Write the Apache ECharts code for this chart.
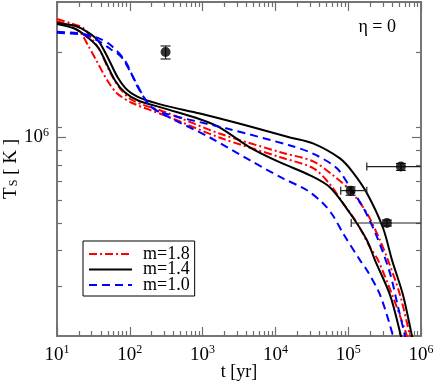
<!DOCTYPE html>
<html>
<head>
<meta charset="utf-8">
<script src="https://cdn.jsdelivr.net/npm/echarts@6/dist/echarts.min.js"></script>
<style>
  body { margin: 0; background: #fff; }
  #chart { width: 436px; height: 382px; }
</style>
</head>
<body>
<div id="chart"></div>
<script>
// cooling curves: age t [yr] and surface temperature Ts [K]
const tRed18a = [10, 15, 23, 30, 39, 54, 73, 110, 320, 1700, 12000, 33000, 62000, 106000, 181000, 273000, 352000, 515000, 706000, 777000];
const TsRed18a = [2.615e6, 2.53e6, 2.43e6, 2.23e6, 2.02e6, 1.69e6, 1.49e6, 1.35e6, 1.224e6, 1.033e6, 8.86e5, 8.24e5, 7.36e5, 6.52e5, 5.41e5, 4.35e5, 3.7e5, 2.79e5, 2.0e5, 1.79e5];

const tRed18b = [10, 15, 21, 27, 35, 49, 67, 110, 320, 1700, 12000, 33000, 56000, 85000, 132000, 200000, 257000, 400000, 642000, 706000];
const TsRed18b = [2.57e6, 2.47e6, 2.34e6, 2.1e6, 1.86e6, 1.59e6, 1.43e6, 1.32e6, 1.19e6, 1.0e6, 8.5e5, 7.8e5, 6.85e5, 5.87e5, 5.0e5, 4.1e5, 3.7e5, 2.8e5, 2.0e5, 1.79e5];

const tBlack14a = [10, 18, 27, 37, 50, 69, 95, 147, 305, 920, 4500, 15900, 32800, 77000, 116000, 181000, 301000, 400000, 566000, 752000, 828000];
const TsBlack14a = [2.53e6, 2.47e6, 2.34e6, 2.19e6, 1.91e6, 1.62e6, 1.46e6, 1.37e6, 1.295e6, 1.214e6, 1.093e6, 1.0e6, 9.53e5, 8.44e5, 7.54e5, 6.36e5, 4.8e5, 3.7e5, 2.79e5, 2.0e5, 1.79e5];

const tBlack14b = [10, 18, 27, 37, 46, 63, 86, 130, 305, 920, 1730, 4500, 11600, 29900, 56000, 106000, 181000, 233000, 375000, 531000, 584000];
const TsBlack14b = [2.51e6, 2.41e6, 2.24e6, 2.07e6, 1.86e6, 1.585e6, 1.44e6, 1.35e6, 1.264e6, 1.16e6, 1.084e6, 9.22e5, 8.17e5, 7.36e5, 6.68e5, 5.41e5, 4.35e5, 3.7e5, 2.79e5, 2.0e5, 1.79e5];

const tBlue10a = [10, 23, 39, 54, 86, 130, 202, 305, 2160, 15900, 32800, 70000, 106000, 160000, 249000, 375000, 483000, 603000, 662000];
const TsBlue10a = [2.355e6, 2.317e6, 2.226e6, 2.12e6, 1.863e6, 1.497e6, 1.274e6, 1.214e6, 1.075e6, 9.37e5, 8.78e5, 7.79e5, 6.68e5, 5.68e5, 4.46e5, 3.33e5, 2.535e5, 2.0e5, 1.79e5];

const tBlue10b = [10, 23, 37, 54, 78, 118, 178, 260, 1260, 4500, 12700, 27200, 45000, 62000, 85000, 145000, 181000, 274000, 412000, 440000];
const TsBlue10b = [2.336e6, 2.3e6, 2.19e6, 2.05e6, 1.91e6, 1.585e6, 1.316e6, 1.224e6, 1.0e6, 8.3e5, 7.18e5, 6.52e5, 5.87e5, 5.3e5, 4.6e5, 3.7e5, 3.41e5, 2.79e5, 2.0e5, 1.79e5];

// observed pulsars with error bars
const obsAge = [310, 108000, 340000, 530000];
const obsTemp = [2.0e6, 6.5e5, 5.0e5, 7.9e5];
const obsAgeLo = [310, 79000, 110000, 180000];
const obsAgeHi = [310, 180000, 1.5e6, 1.5e6];
const obsTempLo = [1.89e6, 6.26e5, 4.88e5, 7.66e5];
const obsTempHi = [2.1e6, 6.7e5, 5.12e5, 8.1e5];

// axes
const xMajor = [10, 100, 1000, 1e4, 1e5, 1e6];
const yMajor = [1e6];
const yMinor = [3e5, 4e5, 5e5, 6e5, 7e5, 8e5, 9e5, 1.09e6, 2e6];
const xRange = [10, 1e6];
const yRange = [2e5, 3e6];

const lg = Math.log10;
const xMinor = [];
for (let n = 1; n < 6; n++) {
  for (let k = 2; k < 10; k++) xMinor.push(n + lg(k));
}

const font = "Liberation Serif";
const axisColor = "#6e6e6e";

function pairs(t, T) {
  return t.map((v, i) => [lg(v), lg(T[i])]);
}

function makeAxis(dim, pos, ticks, len, labels, extra) {
  const range = dim === "x" ? xRange : yRange;
  return Object.assign({
    type: "value",
    position: pos,
    min: lg(range[0]),
    max: lg(range[1]),
    nameMoveOverlap: false,
    axisLine: { show: true, onZero: false, lineStyle: { color: axisColor, width: 1.5 } },
    axisTick: { show: true, inside: true, length: len, customValues: ticks, lineStyle: { color: axisColor, width: 1.2 } },
    axisLabel: labels
      ? {
          show: true,
          customValues: ticks,
          margin: 8,
          formatter: function(v) {
            return "{b|10}{s|" + Math.round(v) + "}";
          },
          rich: {
            b: { fontFamily: font, fontSize: 19, color: "#000" },
            s: { fontFamily: font, fontSize: 12, color: "#000", padding: [0, 0, 10, 0] }
          }
        }
      : { show: false },
    splitLine: { show: false }
  }, extra || {});
}

function curve(name, t, T, color, type) {
  return {
    name: name,
    type: "line",
    data: pairs(t, T),
    showSymbol: false,
    symbol: "none",
    smooth: 0.3,
    lineStyle: { color: color, width: 2, type: type },
    itemStyle: { color: color },
    z: 3
  };
}

const dashDot = [8, 3, 2, 3];
const dashed = [8, 5];

const myChart = echarts.init(document.getElementById("chart"));
const option = {
  animation: false,
  grid: { left: 57, right: 15, top: 2, bottom: 46, outerBoundsMode: "none", containLabel: false },
  xAxis: [
    makeAxis("x", "bottom", xMajor.map(lg), 9, true, {
      name: "t [yr]",
      nameLocation: "middle",
      nameGap: 27,
      nameTextStyle: { fontFamily: font, fontSize: 18, color: "#000" }
    }),
    makeAxis("x", "bottom", xMinor, 5, false),
    makeAxis("x", "top", xMajor.map(lg), 9, false),
    makeAxis("x", "top", xMinor, 5, false)
  ],
  yAxis: [
    makeAxis("y", "left", yMajor.map(lg), 9, true, {
      name: "{a|T}{s|S}{a| [ K ]}",
      nameLocation: "middle",
      nameGap: 31,
      nameTextStyle: {
        rich: {
          a: { fontFamily: font, fontSize: 19, color: "#000", padding: [0, 0, 5, 0] },
          s: { fontFamily: font, fontSize: 12, color: "#000", padding: [0, 0, 0, 1] }
        }
      }
    }),
    makeAxis("y", "left", yMinor.map(lg), 5, false),
    makeAxis("y", "right", yMajor.map(lg), 9, false),
    makeAxis("y", "right", yMinor.map(lg), 5, false)
  ],
  legend: {
    data: ["m=1.8", "m=1.4", "m=1.0"],
    orient: "vertical",
    left: 83,
    top: 241,
    itemWidth: 43,
    itemHeight: 14,
    itemGap: -2.5,
    padding: [4, 5, 2, 5],
    backgroundColor: "#fff",
    borderColor: "#000",
    borderWidth: 1,
    borderRadius: 0,
    itemStyle: { opacity: 0 },
    textStyle: { fontFamily: font, fontSize: 18, lineHeight: 14, color: "#000", padding: [0, 0, 0, 6] }
  },
  graphic: [
    {
      type: "text",
      right: 40,
      top: 18,
      style: { text: "η = 0", fontFamily: font, fontSize: 18, fill: "#000" }
    }
  ],
  series: [
    curve("m=1.8", tRed18a, TsRed18a, "#ff0000", dashDot),
    curve("m=1.8", tRed18b, TsRed18b, "#ff0000", dashDot),
    curve("m=1.4", tBlack14a, TsBlack14a, "#000000", "solid"),
    curve("m=1.4", tBlack14b, TsBlack14b, "#000000", "solid"),
    curve("m=1.0", tBlue10a, TsBlue10a, "#0000ff", dashed),
    curve("m=1.0", tBlue10b, TsBlue10b, "#0000ff", dashed),
    {
      type: "custom",
      z: 4,
      data: obsAge.map((v, i) => [lg(v), lg(obsTemp[i]), lg(obsAgeLo[i]), lg(obsAgeHi[i]), lg(obsTempLo[i]), lg(obsTempHi[i])]),
      renderItem: function(params, api) {
        const c = api.coord([api.value(0), api.value(1)]);
        const lo = api.coord([api.value(2), api.value(1)]);
        const hi = api.coord([api.value(3), api.value(1)]);
        const vlo = api.coord([api.value(0), api.value(4)]);
        const vhi = api.coord([api.value(0), api.value(5)]);
        const box = params.coordSys;
        const right = box.x + box.width;
        const style = { stroke: "#222", lineWidth: 1.2 };
        const children = [];
        if (hi[0] - lo[0] > 1) {
          children.push({ type: "line", shape: { x1: lo[0], y1: c[1], x2: Math.min(hi[0], right), y2: c[1] }, style: style });
          children.push({ type: "line", shape: { x1: lo[0], y1: c[1] - 4, x2: lo[0], y2: c[1] + 4 }, style: style });
          if (hi[0] < right) {
            children.push({ type: "line", shape: { x1: hi[0], y1: c[1] - 4, x2: hi[0], y2: c[1] + 4 }, style: style });
          }
        }
        children.push({ type: "line", shape: { x1: c[0], y1: vlo[1], x2: c[0], y2: vhi[1] }, style: style });
        children.push({ type: "line", shape: { x1: c[0] - 5, y1: vlo[1], x2: c[0] + 5, y2: vlo[1] }, style: style });
        children.push({ type: "line", shape: { x1: c[0] - 5, y1: vhi[1], x2: c[0] + 5, y2: vhi[1] }, style: style });
        return { type: "group", children: children };
      }
    },
    {
      type: "scatter",
      z: 5,
      symbol: "circle",
      symbolSize: 10,
      itemStyle: { color: "#000" },
      data: obsAge.map((v, i) => [lg(v), lg(obsTemp[i])])
    }
  ]
};
myChart.setOption(option, true);
</script>
</body>
</html>
